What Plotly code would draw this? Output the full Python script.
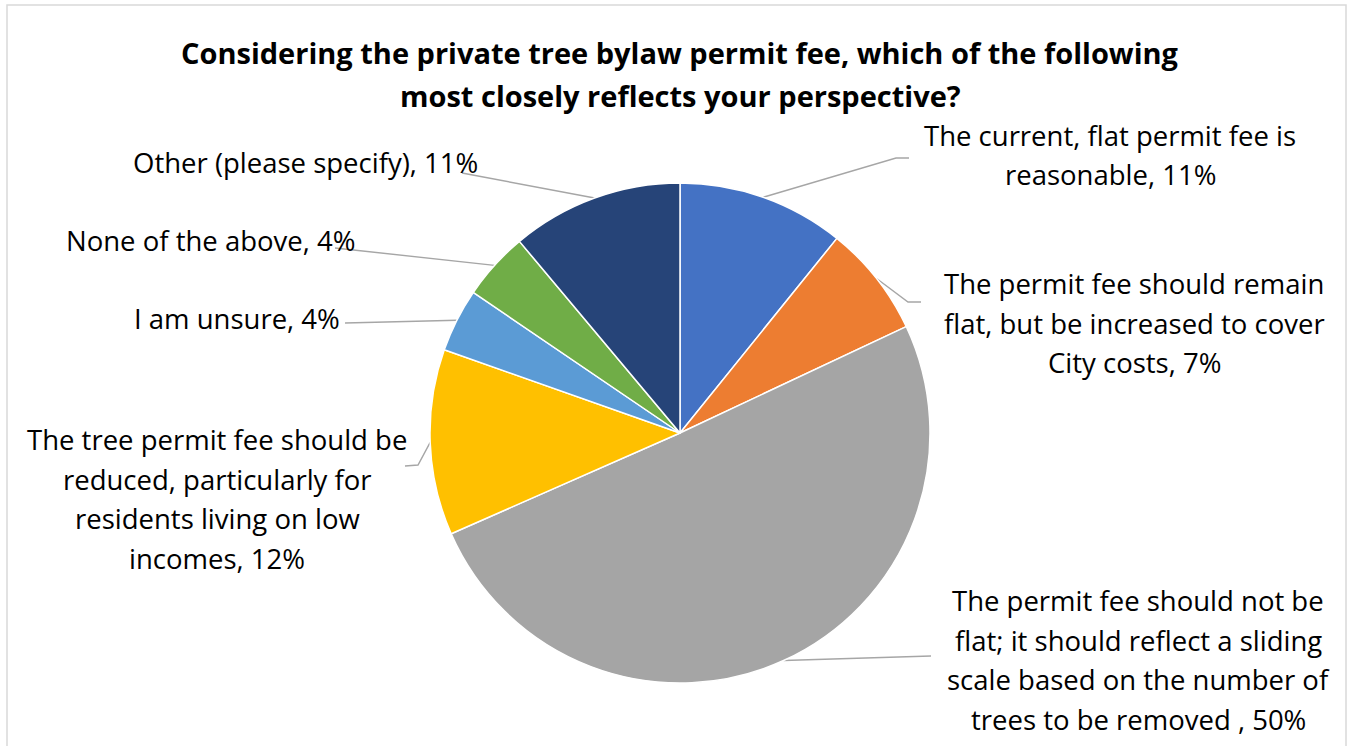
import math
import plotly.graph_objects as go

# ---- data ----
categories = [
    "The current, flat permit fee is reasonable",
    "The permit fee should remain flat, but be increased to cover City costs",
    "The permit fee should not be flat; it should reflect a sliding scale based on the number of trees to be removed ",
    "The tree permit fee should be reduced, particularly for residents living on low incomes",
    "I am unsure",
    "None of the above",
    "Other (please specify)",
]
values = [10.8, 7.2, 50.4, 12.0, 4.1, 4.4, 11.1]
pct_labels = ["11%", "7%", "50%", "12%", "4%", "4%", "11%"]
label_lines = [
    ["The current, flat permit fee is", "reasonable, 11%"],
    ["The permit fee should remain", "flat, but be increased to cover", "City costs, 7%"],
    ["The permit fee should not be", "flat; it should reflect a sliding",
     "scale based on the number of", "trees to be removed , 50%"],
    ["The tree permit fee should be", "reduced, particularly for",
     "residents living on low", "incomes, 12%"],
    ["I am unsure, 4%"],
    ["None of the above, 4%"],
    ["Other (please specify), 11%"],
]
colors = ["#4472C4", "#ED7D31", "#A5A5A5", "#FFC000", "#5B9BD5", "#70AD47", "#264478"]
title_lines = [
    "Considering the private tree bylaw permit fee, which of the following",
    "most closely reflects your perspective?",
]

# ---- layout constants (pixels) ----
W, H = 1353, 746
CX, CY, R = 680, 433, 250
FONT = "Open Sans"
LBL_SIZE = 27.5
TITLE_SIZE = 29
LINE_H = 39.5
# label block centres and leader-line bend/end points
label_pos = [(1110, 155), (1134, 323), (1138, 660), (217, 499), (237, 318), (210, 240), (305, 162)]
leader_tail = [
    [(896, 158), (909, 158)],
    [(908, 302), (921, 302)],
    [(931, 656)],
    [(418, 465), (405, 466)],
    [(345, 323)],
    [(335, 248)],
    [(462, 173)],
]

fig = go.Figure()

# pixel-space overlay axes for leader lines
total = sum(values)
cum = 0.0
for i, v in enumerate(values):
    theta = 2 * math.pi * (cum + v / 2) / total
    cum += v
    ex = CX + R * math.sin(theta)
    ey = CY - R * math.cos(theta)
    xs = [ex] + [p[0] for p in leader_tail[i]]
    ys = [ey] + [p[1] for p in leader_tail[i]]
    fig.add_trace(go.Scatter(x=xs, y=ys, mode="lines",
                             line=dict(color="#A6A6A6", width=1.4),
                             hoverinfo="skip", showlegend=False))

fig.add_trace(go.Pie(
    labels=categories, values=values, sort=False, direction="clockwise",
    rotation=0, textinfo="none", hole=0,
    marker=dict(colors=colors, line=dict(color="white", width=1.5)),
    domain=dict(x=[(CX - R) / W, (CX + R) / W], y=[(H - CY - R) / H, (H - CY + R) / H]),
    showlegend=False,
))

annotations = []
for i, lines in enumerate(label_lines):
    x0, y0 = label_pos[i]
    n = len(lines)
    for j, t in enumerate(lines):
        annotations.append(dict(
            x=x0, y=y0 + (j - (n - 1) / 2) * LINE_H, xref="x", yref="y",
            text=t, showarrow=False, xanchor="center", yanchor="middle",
            font=dict(family=FONT, size=LBL_SIZE, color="#000000")))
for j, t in enumerate(title_lines):
    annotations.append(dict(
        x=680, y=52 + j * 43, xref="x", yref="y", text="<b>" + t + "</b>",
        showarrow=False, xanchor="center", yanchor="middle",
        font=dict(family=FONT, size=TITLE_SIZE, color="#000000")))

fig.update_layout(
    width=W, height=H, margin=dict(l=0, r=0, t=0, b=0),
    paper_bgcolor="white", plot_bgcolor="rgba(0,0,0,0)",
    xaxis=dict(range=[0, W], visible=False, fixedrange=True, domain=[0, 1]),
    yaxis=dict(range=[H, 0], visible=False, fixedrange=True, domain=[0, 1]),
    annotations=annotations,
    shapes=[dict(type="rect", xref="x", yref="y", x0=7, y0=5, x1=1346, y1=770,
                 line=dict(color="#D9D9D9", width=1.5), layer="below")],
)

fig.write_html("out.html", config={"displayModeBar": False},
               post_script="document.body.style.margin='0';")
